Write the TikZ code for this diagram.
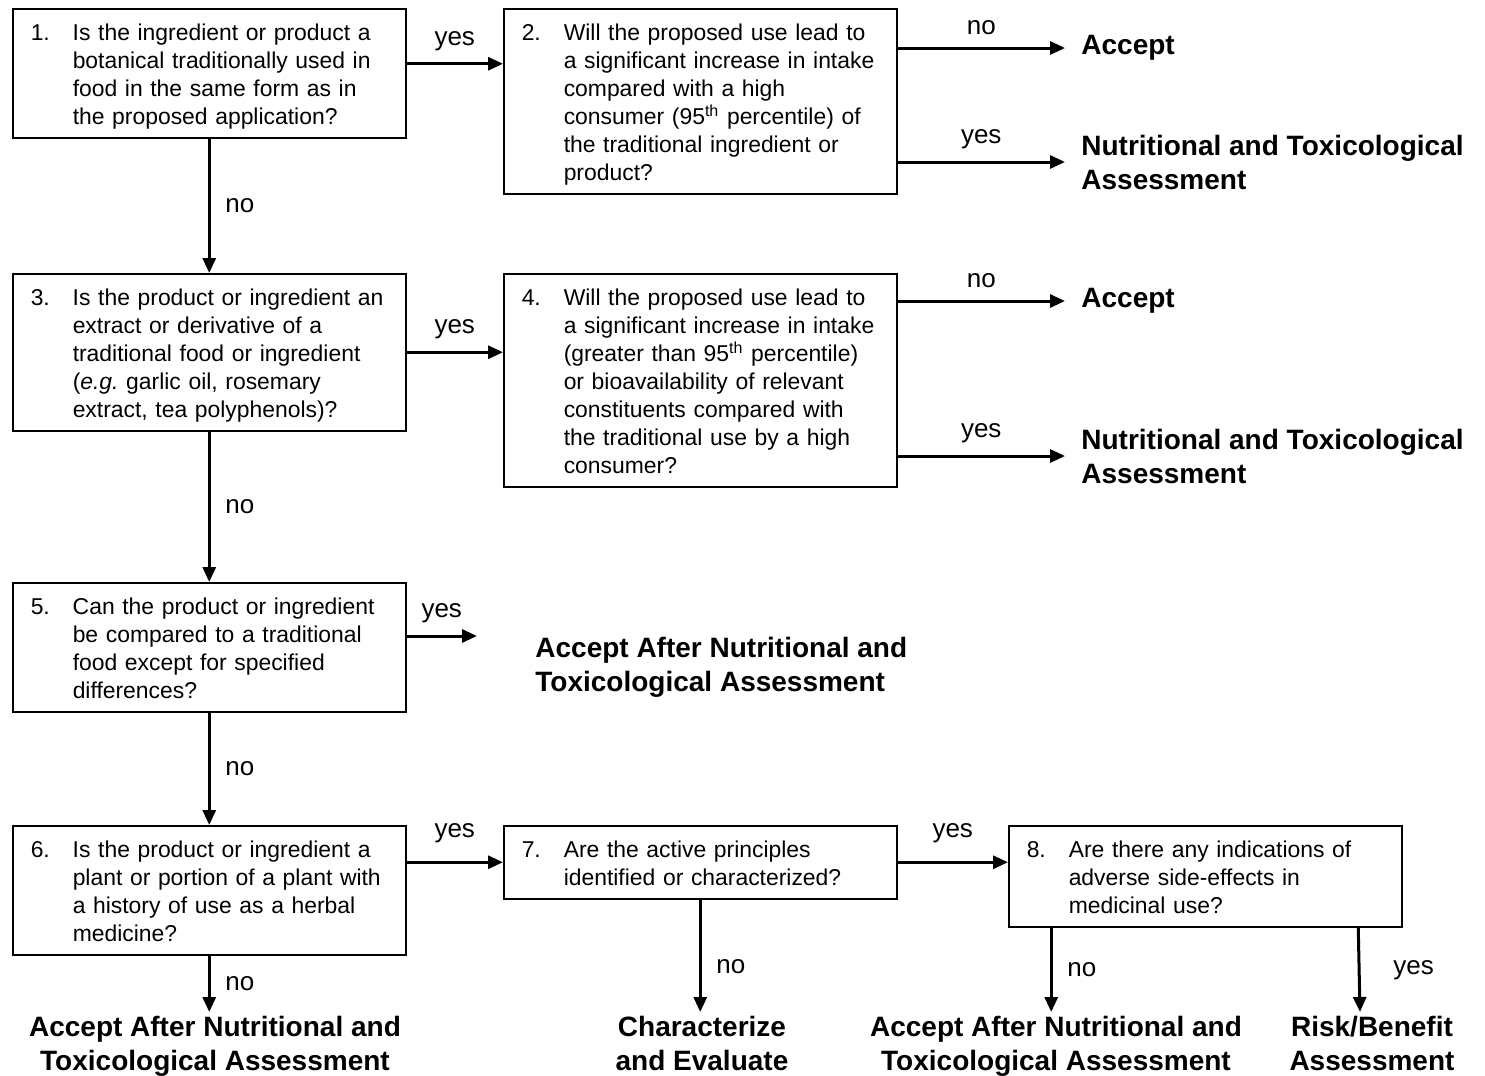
\documentclass[tikz,border=0pt]{standalone}
\usepackage{fontspec}
\setmainfont{Liberation Sans}
\usetikzlibrary{positioning}
\usetikzlibrary{arrows.meta}

\newcommand{\qtext}[2]{\raisebox{-2pt}[\height][\depth]{\makebox[21pt][l]{#1.}\begin{tabular}[t]{@{}l@{}}#2\end{tabular}}}

\begin{document}
\begin{tikzpicture}
	[x=0.5pt, y=-0.5pt,
	qbox/.style={draw, line width=0.75pt, anchor=north west, inner xsep=9pt, inner ysep=4.25pt,
		text width=178.5pt, align=left, font=\fontsize{11.45}{14}\selectfont},
	outr/.style={anchor=west, inner xsep=8pt, inner ysep=0pt, align=left,
		font=\fontsize{14}{17}\bfseries},
	outb/.style={anchor=north, inner sep=2pt, align=center, font=\fontsize{14}{17}\bfseries},
	lbl/.style={font=\fontsize{13}{15}\selectfont},
	arr/.style={line width=1.5pt, -{Triangle[length=7.5pt,width=6.5pt]}}]

	\useasboundingbox (0,0) rectangle (1485,1076);

	% questions
	\node[qbox] (q1) at (12,8) {\qtext{1}{Is the ingredient or product a\\botanical traditionally used in\\food in the same form as in\\the proposed application?}};
	\node[qbox] (q2) at (503,8) {\qtext{2}{Will the proposed use lead to\\a significant increase in intake\\compared with a high\\consumer (95\textsuperscript{th} percentile) of\\the traditional ingredient or\\product?}};
	\node[qbox] (q3) at (12,273) {\qtext{3}{Is the product or ingredient an\\extract or derivative of a\\traditional food or ingredient\\(\textit{e.g.}\ garlic oil, rosemary\\extract, tea polyphenols)?}};
	\node[qbox] (q4) at (503,273) {\qtext{4}{Will the proposed use lead to\\a significant increase in intake\\(greater than 95\textsuperscript{th} percentile)\\or bioavailability of relevant\\constituents compared with\\the traditional use by a high\\consumer?}};
	\node[qbox] (q5) at (12,582) {\qtext{5}{Can the product or ingredient\\be compared to a traditional\\food except for specified\\differences?}};
	\node[qbox] (q6) at (12,825) {\qtext{6}{Is the product or ingredient a\\plant or portion of a plant with\\a history of use as a herbal\\medicine?}};
	\node[qbox] (q7) at (503,825) {\qtext{7}{Are the active principles\\identified or characterized?}};
	\node[qbox] (q8) at (1008,825) {\qtext{8}{Are there any indications of\\adverse side-effects in\\medicinal use?}};

	% outcomes
	\node[outr] (a2) at (1065,48) {Accept};
	\node[outr] (n2) at (1065,162) {Nutritional and Toxicological\\Assessment};
	\node[outr] (a4) at (1065,301) {Accept};
	\node[outr] (n4) at (1065,456) {Nutritional and Toxicological\\Assessment};
	\node[outr, inner xsep=0pt] (o5) at (535,667) {Accept After Nutritional and\\Toxicological Assessment};
	\node[outb] (o6) at (215,1012) {Accept After Nutritional and\\Toxicological Assessment};
	\node[outb] (o7) at (702,1012) {Characterize\\and Evaluate};
	\node[outb] (o8n) at (1056,1012) {Accept After Nutritional and\\Toxicological Assessment};
	\node[outb] (o8y) at (1372,1012) {Risk/Benefit\\Assessment};

	\coordinate (s1) at ([yshift=4.75pt]q1.east);
	\coordinate (e5) at (477,636);
	\coordinate (s8n) at ([xshift=-77pt]q8.south);
	\coordinate (s8y) at ([xshift=76.5pt]q8.south);

	% yes / no
	\draw[arr] (s1) -- (s1 -| q2.west) node[midway, lbl, above=2.5pt] {yes};
	\draw[arr] (a2.west -| q2.east) -- (a2.west) node[midway, lbl, above=2.5pt] {no};
	\draw[arr] (n2.west -| q2.east) -- (n2.west) node[midway, lbl, above=2.5pt] {yes};
	\draw[arr] (q1.south) -- (q3.north) node[midway, lbl, right=4pt] {no};
	\draw[arr] (q3.east) -- (q3.east -| q4.west) node[midway, lbl, above=2.5pt] {yes};
	\draw[arr] (a4.west -| q4.east) -- (a4.west) node[midway, lbl, above=2.5pt] {no};
	\draw[arr] (n4.west -| q4.east) -- (n4.west) node[midway, lbl, above=2.5pt] {yes};
	\draw[arr] (q3.south) -- (q5.north) node[midway, lbl, right=4pt] {no};
	\draw[arr] (e5 -| q5.east) -- (e5) node[midway, lbl, above=2.5pt] {yes};
	\draw[arr] (q5.south) -- (q6.north) node[midway, lbl, right=4pt] {no};
	\draw[arr] (q7.west -| q6.east) -- (q7.west) node[midway, lbl, above=5.5pt] {yes};
	\draw[arr] (q7.east) -- (q7.east -| q8.west) node[midway, lbl, above=5.5pt] {yes};
	\draw[arr] (q6.south) -- (q6.south |- o6.north) node[midway, lbl, right=4pt] {no};
	\draw[arr] (q7.south) -- (q7.south |- o7.north) node[pos=0.6, lbl, right=4pt] {no};
	\draw[arr] (s8n) -- (s8n |- o8n.north) node[midway, lbl, right=4pt] {no};
	\draw[arr] (s8y) -- ([xshift=-6pt]o8y.north) node[midway, lbl, right=13pt] {yes};

\end{tikzpicture}
\end{document}
